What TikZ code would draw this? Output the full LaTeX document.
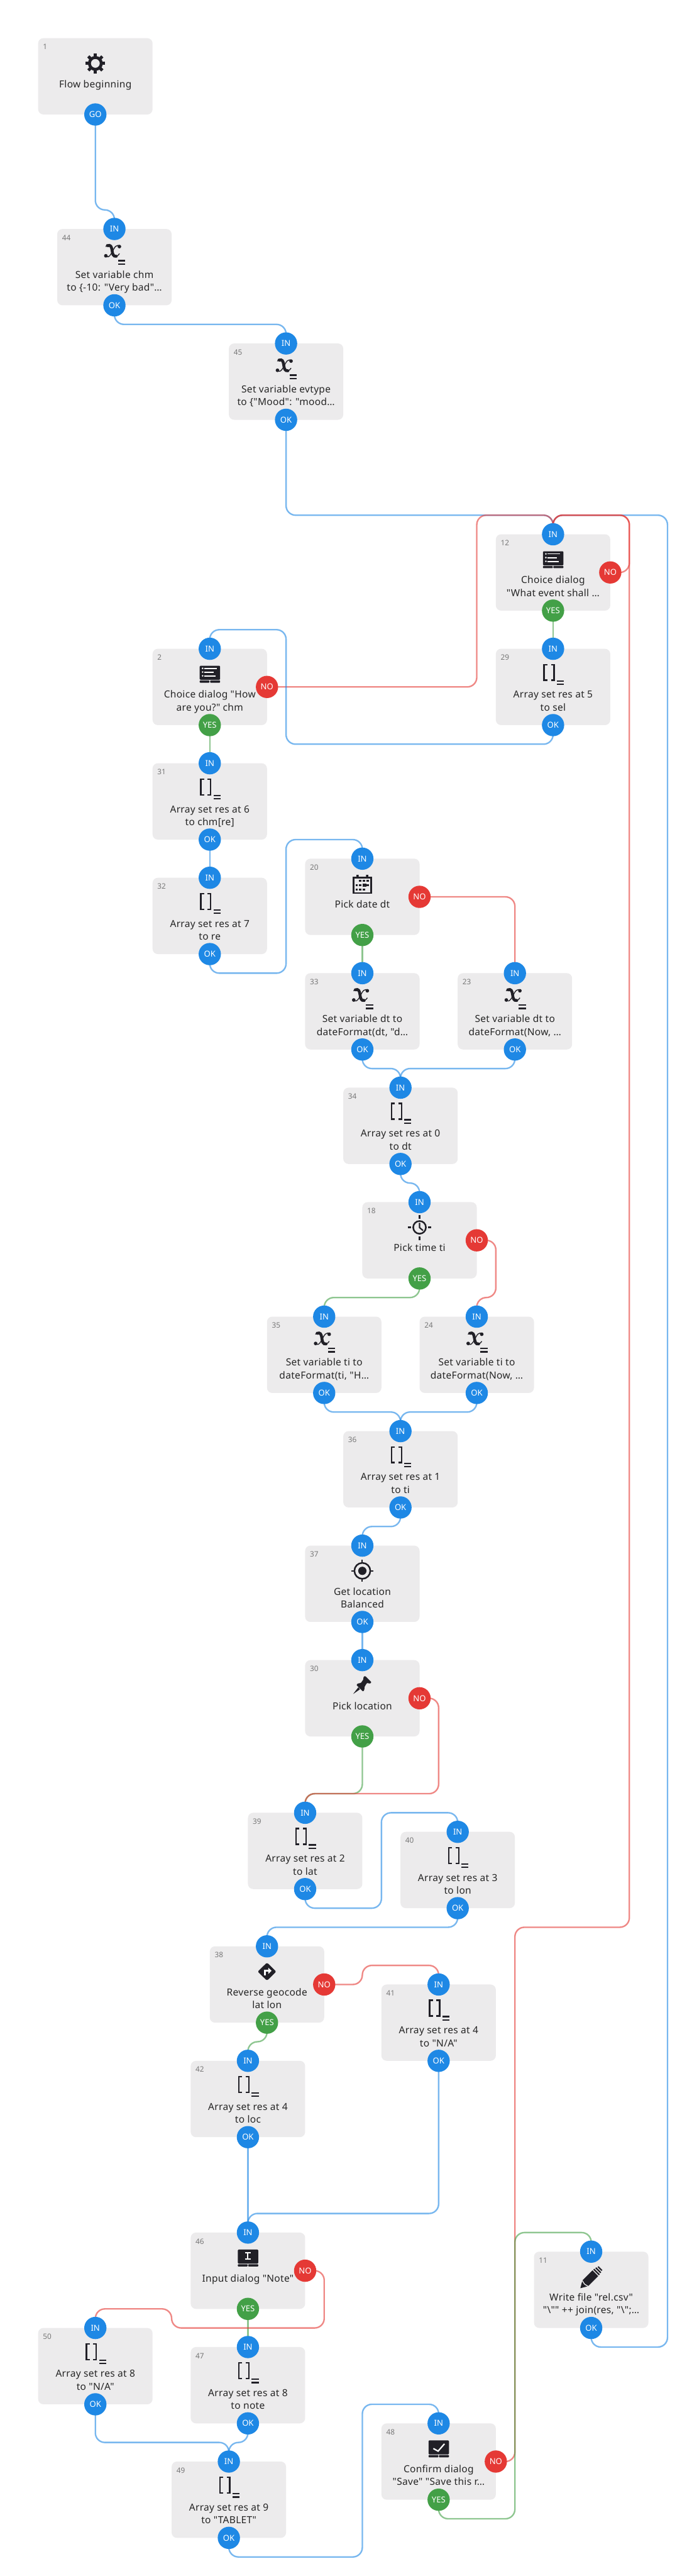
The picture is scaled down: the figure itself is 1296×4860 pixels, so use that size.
\documentclass[tikz,border=0pt]{standalone}
\usepackage{fontspec}
\usepackage{graphicx}
\newfontfamily\flowfont[LetterSpace=2]{Noto Sans}
\newfontfamily\portfont{Noto Sans}
\pgfdeclarelayer{boxes}
\pgfdeclarelayer{links}
\pgfsetlayers{boxes,links,main}
\definecolor{blueport}{HTML}{1E88E5}
\definecolor{redport}{HTML}{E53935}
\definecolor{greenport}{HTML}{43A047}
\definecolor{boxfill}{HTML}{ECEBEC}
\definecolor{inkdark}{HTML}{212027}
\definecolor{txt}{HTML}{262626}
\definecolor{numgray}{HTML}{787878}
\tikzset{
 flowbox/.style={rectangle,rounded corners=10pt,fill=boxfill,minimum width=216pt,minimum height=144pt,inner sep=0pt},
 port/.style={circle,minimum size=42pt,inner sep=0pt,text=white,font=\portfont\fontsize{15.5}{16}\selectfont},
 lbl/.style={anchor=north,inner sep=0pt,align=center,text=txt,font=\flowfont\fontsize{18.4}{24}\selectfont},
 numtxt/.style={anchor=base west,inner sep=0pt,text=numgray,font=\portfont\fontsize{14}{16}\selectfont},
 link/.style={line width=2.8pt,draw opacity=0.6,rounded corners=18pt},
 bl/.style={link,draw=blueport},
 re/.style={link,draw=redport},
 gr/.style={link,draw=greenport},
 ic/.style={inkdark},
}
% icons: origin at (centre x, box top), y downwards
\newcommand{\IcoGear}{%
 \draw[ic,line width=5.5pt] (0,47.6) circle (11.2pt);
 \foreach \a in {0,45,...,315}{\fill[ic,rotate around={\a:(0,47.6)}] (-2.9,28.9) rectangle (2.9,35);}}
\newcommand{\IcoVar}{%
 \draw[ic,line width=5.4pt,line cap=round] (-12.5,31.5) .. controls (-7.5,29.5) and (-5.5,33) .. (-4.5,40) .. controls (-3.6,47) and (-2.5,52.5) .. (3.5,51.5);
 \draw[ic,line width=1.6pt] (3.5,51.5) .. controls (6,50.8) and (8,49) .. (9.5,46.5);
 \draw[ic,line width=1.6pt] (-17,48.5) .. controls (-14.5,56) and (-9,53) .. (-4,43) .. controls (0.5,34) and (4,27.5) .. (11.5,33);
 \fill[ic] (9.4,33.2) circle (3.4pt);
 \fill[ic] (-16.2,50.6) circle (3.4pt);
 \fill[ic] (-17,33.8) -- (-15,29) -- (-9,28.4) -- (-11,33) -- cycle;
 \fill[ic] (7,58.4) rectangle (20.6,61.4);
 \fill[ic] (7,65) rectangle (20.6,68);}
\newcommand{\IcoArr}{%
 \draw[ic,line width=2.8pt] (-10.8,29.8) -- (-17,29.8) -- (-17,59.4) -- (-10.8,59.4);
 \draw[ic,line width=2.8pt] (-4,29.8) -- (1.8,29.8) -- (1.8,59.4) -- (-4,59.4);
 \fill[ic] (7,59.3) rectangle (20.4,62);
 \fill[ic] (7,65.6) rectangle (20.4,68.3);}
\newcommand{\IcoDlgBase}{%
 \fill[ic,rounded corners=1.5pt] (-19,32) rectangle (19.5,58.6);
 \fill[ic,rounded corners=1pt] (-19,59.8) rectangle (-0.6,64);
 \fill[ic,rounded corners=1pt] (0.6,59.8) rectangle (19.5,64);}
\newcommand{\IcoChoice}{\IcoDlgBase
 \foreach \y in {37,44,51}{\fill[white] (-13.5,\y) circle (1.7pt);}
 \fill[white] (-10,35.7) rectangle (13,37.9);
 \fill[white] (-10,42.9) rectangle (7,45.1);
 \fill[white] (-10,50) rectangle (11,52.2);}
\newcommand{\IcoInput}{\IcoDlgBase
 \draw[white,line width=2.4pt] (-5.6,38.4) -- (5.6,38.4) (-5.6,50.4) -- (5.6,50.4) (0,38.4) -- (0,50.4);}
\newcommand{\IcoConfirm}{\IcoDlgBase
 \draw[white,line width=2.6pt] (-10,47.4) -- (-1,52.4) -- (11,38.6);}
\newcommand{\IcoCal}{%
 \draw[ic,line width=2.6pt] (-16.7,35) rectangle (16.7,64.7);
 \fill[ic] (-18,33.6) rectangle (18,37.5);
 \fill[ic] (-11,30.5) rectangle (-7,36) (7,30.5) rectangle (11,36);
 \foreach \p/\q in {-4/42,3/42,10/42,-11/50,-4/50,10/50,-11/58,-4/58,3/58}{\fill[ic] (\p-2,\q-2) rectangle (\p+2,\q+2);}
 \fill[ic] (0.5,46.5) rectangle (7.5,53.5);}
\newcommand{\IcoClock}{%
 \draw[ic,line width=3pt] (0,47.6) circle (12pt);
 \draw[ic,line width=2.6pt] (0,39) -- (0,48) -- (6.5,53.5);
 \draw[ic,line width=3pt] (-22,47.6) -- (-16.5,47.6) (16.5,47.6) -- (22,47.6) (0,24.8) -- (0,31.7) (0,64.5) -- (0,71.4);}
\newcommand{\IcoLoc}{%
 \draw[ic,line width=3pt] (0,47.6) circle (15pt);
 \fill[ic] (0,47.6) circle (7.8pt);
 \draw[ic,line width=2.4pt] (-20.5,47.6) -- (-14,47.6) (14,47.6) -- (20.5,47.6) (0,27.1) -- (0,33.6) (0,61.6) -- (0,68.1);}
\newcommand{\IcoPin}{%
 \begin{scope}[shift={(0,47.6)}]
 \fill[ic,rounded corners=1.5pt] (5,-18) -- (17.5,-5.5) -- (14,-3) -- (9,-5) -- (4,3) -- (4,8) -- (1.5,12) -- (-11.5,-1) -- (-7.5,-4) -- (-3,-4) -- (2.5,-12) -- (1.5,-15) -- cycle;
 \fill[ic] (-7.5,3.5) -- (-17.4,16.4) -- (-4.5,7.5) -- cycle;
 \end{scope}}
\newcommand{\IcoGeo}{%
 \fill[ic,rounded corners=2pt] (0,30.6) -- (17.5,47.7) -- (0,64.8) -- (-17.5,47.7) -- cycle;
 \draw[white,line width=3pt] (-3.8,54.5) -- (-3.8,46.2) -- (3.5,46.2);
 \fill[white] (2.6,40.3) -- (8.6,46.2) -- (2.6,52.1) -- cycle;}
\newcommand{\IcoPencil}{%
 \begin{scope}[shift={(-20.5,69)},rotate=45]
 \fill[ic] (0,0) -- (13,7.6) -- (40,7.6) -- (40,-7.6) -- (13,-7.6) -- cycle;
 \draw[boxfill,line width=1.6pt] (13,8.5) -- (11,0) -- (13,-8.5);
 \fill[ic] (42,-7.4) rectangle (44.6,7.4);
 \fill[ic] (46.6,-6.6) rectangle (49.2,6.6);
 \fill[ic] (51.2,-5.2) rectangle (53.6,5.2);
 \end{scope}}
% \Fb{id}{centre x}{top}{icon}{text}
\newcommand{\Fb}[5]{%
 \begin{pgfonlayer}{boxes}\node[flowbox] (b#1) at (#2,#3+72) {};\end{pgfonlayer}
 \node[numtxt] (num#1) at (#2-99,#3+21.5) {#1};
 \node[lbl] (lab#1) at (#2,#3+76) {\strut #5};
 \begin{scope}[shift={(#2,#3)}]#4\end{scope}}
% \Pt{name}{x}{y}{label}{colour}
\newcommand{\Pt}[5]{\node[port,fill=#5] (#1) at (#2,#3) {#4};}
% vertical-horizontal-vertical link
\newcommand{\Vhv}[4]{\draw[#1] (#2.center) -- (#2.center |- 0,#4) -- (#3.center |- 0,#4) -- (#3.center);}
\newcommand{\St}[3]{\draw[#1] (#2.center) -- (#3.center);}
\begin{document}
\begin{tikzpicture}[x=1pt,y=-1pt]
\useasboundingbox (0,0) rectangle (1296,4860);
\begin{pgfonlayer}{boxes}\fill[white] (0,0) rectangle (1296,4860);\end{pgfonlayer}

\Fb{1}{180}{72}{\IcoGear}{Flow beginning}
\Pt{go1}{180}{216}{GO}{blueport}
\Fb{44}{216}{432}{\IcoVar}{Set variable chm\\to \{-10: "Very bad"…}
\Pt{i44}{216}{432}{IN}{blueport}\Pt{o44}{216}{576}{OK}{blueport}
\Fb{45}{540}{648}{\IcoVar}{Set variable evtype\\to \{"Mood": "mood…}
\Pt{i45}{540}{648}{IN}{blueport}\Pt{o45}{540}{792}{OK}{blueport}
\Fb{12}{1044}{1008}{\IcoChoice}{Choice dialog\\"What event shall …}
\Pt{i12}{1044}{1008}{IN}{blueport}\Pt{y12}{1044}{1152}{YES}{greenport}\Pt{n12}{1152}{1080}{NO}{redport}
\Fb{29}{1044}{1224}{\IcoArr}{Array set res at 5\\to sel}
\Pt{i29}{1044}{1224}{IN}{blueport}\Pt{o29}{1044}{1368}{OK}{blueport}
\Fb{2}{396}{1224}{\IcoChoice}{Choice dialog "How\\are you?" chm}
\Pt{i2}{396}{1224}{IN}{blueport}\Pt{y2}{396}{1368}{YES}{greenport}\Pt{n2}{504}{1296}{NO}{redport}
\Fb{31}{396}{1440}{\IcoArr}{Array set res at 6\\to chm[re]}
\Pt{i31}{396}{1440}{IN}{blueport}\Pt{o31}{396}{1584}{OK}{blueport}
\Fb{32}{396}{1656}{\IcoArr}{Array set res at 7\\to re}
\Pt{i32}{396}{1656}{IN}{blueport}\Pt{o32}{396}{1800}{OK}{blueport}
\Fb{20}{684}{1620}{\IcoCal}{Pick date dt}
\Pt{i20}{684}{1620}{IN}{blueport}\Pt{y20}{684}{1764}{YES}{greenport}\Pt{n20}{792}{1692}{NO}{redport}
\Fb{33}{684}{1836}{\IcoVar}{Set variable dt to\\dateFormat(dt, "d…}
\Pt{i33}{684}{1836}{IN}{blueport}\Pt{o33}{684}{1980}{OK}{blueport}
\Fb{23}{972}{1836}{\IcoVar}{Set variable dt to\\dateFormat(Now, …}
\Pt{i23}{972}{1836}{IN}{blueport}\Pt{o23}{972}{1980}{OK}{blueport}
\Fb{34}{756}{2052}{\IcoArr}{Array set res at 0\\to dt}
\Pt{i34}{756}{2052}{IN}{blueport}\Pt{o34}{756}{2196}{OK}{blueport}
\Fb{18}{792}{2268}{\IcoClock}{Pick time ti}
\Pt{i18}{792}{2268}{IN}{blueport}\Pt{y18}{792}{2412}{YES}{greenport}\Pt{n18}{900}{2340}{NO}{redport}
\Fb{35}{612}{2484}{\IcoVar}{Set variable ti to\\dateFormat(ti, "H…}
\Pt{i35}{612}{2484}{IN}{blueport}\Pt{o35}{612}{2628}{OK}{blueport}
\Fb{24}{900}{2484}{\IcoVar}{Set variable ti to\\dateFormat(Now, …}
\Pt{i24}{900}{2484}{IN}{blueport}\Pt{o24}{900}{2628}{OK}{blueport}
\Fb{36}{756}{2700}{\IcoArr}{Array set res at 1\\to ti}
\Pt{i36}{756}{2700}{IN}{blueport}\Pt{o36}{756}{2844}{OK}{blueport}
\Fb{37}{684}{2916}{\IcoLoc}{Get location\\Balanced}
\Pt{i37}{684}{2916}{IN}{blueport}\Pt{o37}{684}{3060}{OK}{blueport}
\Fb{30}{684}{3132}{\IcoPin}{Pick location}
\Pt{i30}{684}{3132}{IN}{blueport}\Pt{y30}{684}{3276}{YES}{greenport}\Pt{n30}{792}{3204}{NO}{redport}
\Fb{39}{576}{3420}{\IcoArr}{Array set res at 2\\to lat}
\Pt{i39}{576}{3420}{IN}{blueport}\Pt{o39}{576}{3564}{OK}{blueport}
\Fb{40}{864}{3456}{\IcoArr}{Array set res at 3\\to lon}
\Pt{i40}{864}{3456}{IN}{blueport}\Pt{o40}{864}{3600}{OK}{blueport}
\Fb{38}{504}{3672}{\IcoGeo}{Reverse geocode\\lat lon}
\Pt{i38}{504}{3672}{IN}{blueport}\Pt{y38}{504}{3816}{YES}{greenport}\Pt{n38}{612}{3744}{NO}{redport}
\Fb{41}{828}{3744}{\IcoArr}{Array set res at 4\\to "N/A"}
\Pt{i41}{828}{3744}{IN}{blueport}\Pt{o41}{828}{3888}{OK}{blueport}
\Fb{42}{468}{3888}{\IcoArr}{Array set res at 4\\to loc}
\Pt{i42}{468}{3888}{IN}{blueport}\Pt{o42}{468}{4032}{OK}{blueport}
\Fb{46}{468}{4212}{\IcoInput}{Input dialog "Note"}
\Pt{i46}{468}{4212}{IN}{blueport}\Pt{y46}{468}{4356}{YES}{greenport}\Pt{n46}{576}{4284}{NO}{redport}
\Fb{47}{468}{4428}{\IcoArr}{Array set res at 8\\to note}
\Pt{i47}{468}{4428}{IN}{blueport}\Pt{o47}{468}{4572}{OK}{blueport}
\Fb{50}{180}{4392}{\IcoArr}{Array set res at 8\\to "N/A"}
\Pt{i50}{180}{4392}{IN}{blueport}\Pt{o50}{180}{4536}{OK}{blueport}
\Fb{49}{432}{4644}{\IcoArr}{Array set res at 9\\to "TABLET"}
\Pt{i49}{432}{4644}{IN}{blueport}\Pt{o49}{432}{4788}{OK}{blueport}
\Fb{48}{828}{4572}{\IcoConfirm}{Confirm dialog\\"Save" "Save this r…}
\Pt{i48}{828}{4572}{IN}{blueport}\Pt{y48}{828}{4716}{YES}{greenport}\Pt{n48}{936}{4644}{NO}{redport}
\Fb{11}{1116}{4248}{\IcoPencil}{Write file "rel.csv"\\"\textbackslash"" ++ join(res, "\textbackslash";…}
\Pt{i11}{1116}{4248}{IN}{blueport}\Pt{o11}{1116}{4392}{OK}{blueport}

\begin{pgfonlayer}{links}
\Vhv{bl}{go1}{i44}{396}
\Vhv{bl}{o44}{i45}{612}
\Vhv{bl}{o45}{i12}{972}
\draw[bl] (o11.center) -- (1116,4428) -- (1260,4428) -- (1260,972) -- (1044,972) -- (i12.center);
\draw[re] (n12.center) -- (1188,1080) -- (1188,972) -- (1044,972) -- (i12.center);
\draw[re] (n2.center) -- (900,1296) -- (900,972) -- (1044,972) -- (i12.center);
\draw[re] (n48.center) -- (972,4644) -- (972,3636) -- (1188,3636) -- (1188,972) -- (1044,972) -- (i12.center);
\St{gr}{y12}{i29}
\draw[bl] (o29.center) -- (1044,1404) -- (540,1404) -- (540,1188) -- (396,1188) -- (i2.center);
\St{gr}{y2}{i31}
\St{bl}{o31}{i32}
\draw[bl] (o32.center) -- (396,1836) -- (540,1836) -- (540,1584) -- (684,1584) -- (i20.center);
\St{gr}{y20}{i33}
\draw[re] (n20.center) -- (972,1692) -- (i23.center);
\Vhv{bl}{o33}{i34}{2016}
\Vhv{bl}{o23}{i34}{2016}
\Vhv{bl}{o34}{i18}{2232}
\Vhv{gr}{y18}{i35}{2448}
\draw[re] (n18.center) -- (936,2340) -- (936,2448) -- (900,2448) -- (i24.center);
\Vhv{bl}{o35}{i36}{2664}
\Vhv{bl}{o24}{i36}{2664}
\Vhv{bl}{o36}{i37}{2880}
\St{bl}{o37}{i30}
\Vhv{gr}{y30}{i39}{3384}
\draw[re] (n30.center) -- (828,3204) -- (828,3384) -- (576,3384) -- (i39.center);
\draw[bl] (o39.center) -- (576,3600) -- (720,3600) -- (720,3420) -- (864,3420) -- (i40.center);
\Vhv{bl}{o40}{i38}{3636}
\Vhv{gr}{y38}{i42}{3852}
\draw[re] (n38.center) -- (684,3744) -- (684,3708) -- (828,3708) -- (i41.center);
\St{bl}{o42}{i46}
\Vhv{bl}{o41}{i46}{4176}
\St{gr}{y46}{i47}
\draw[re] (n46.center) -- (612,4284) -- (612,4392) -- (324,4392) -- (324,4356) -- (180,4356) -- (i50.center);
\Vhv{bl}{o50}{i49}{4608}
\Vhv{bl}{o47}{i49}{4608}
\draw[bl] (o49.center) -- (432,4824) -- (684,4824) -- (684,4536) -- (828,4536) -- (i48.center);
\draw[gr] (y48.center) -- (828,4752) -- (972,4752) -- (972,4212) -- (1116,4212) -- (i11.center);
\end{pgfonlayer}
\end{tikzpicture}
\end{document}
